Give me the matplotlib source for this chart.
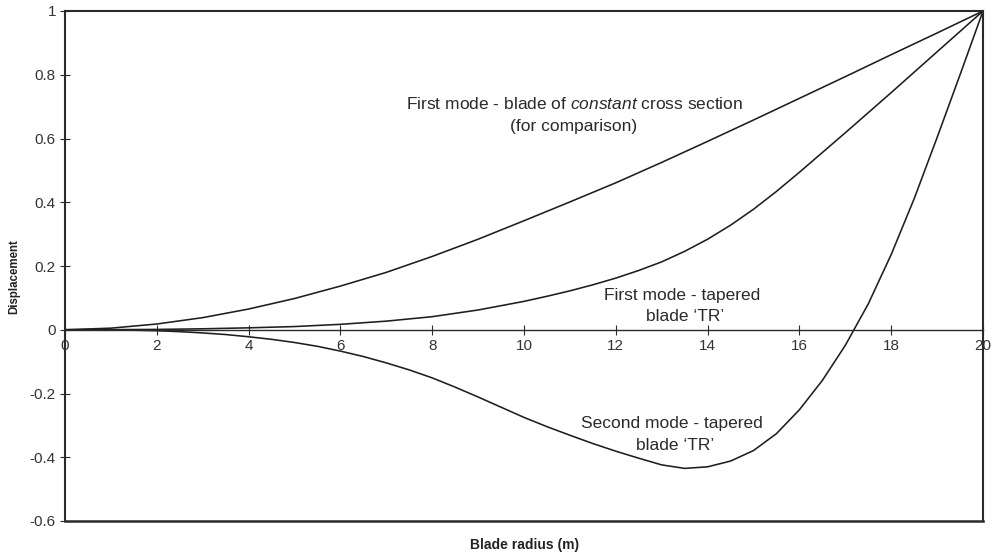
import matplotlib
matplotlib.use("Agg")
import matplotlib.pyplot as plt

# Blade radius (m)
radius = [0, 1, 2, 3, 4, 5, 6, 7, 8, 9, 10, 11, 12, 13, 14, 15, 16, 17, 18, 19, 20]
# First mode - blade of constant cross section
mode1_constant = [0, 0.005, 0.018, 0.038, 0.065, 0.098, 0.137, 0.180, 0.230, 0.284, 0.342,
                  0.401, 0.461, 0.525, 0.591, 0.658, 0.726, 0.794, 0.863, 0.931, 1.0]
# First mode - tapered blade 'TR'
radius_t1 = [0, 1, 2, 3, 4, 5, 6, 7, 8, 9, 10, 10.5, 11, 11.5, 12, 12.5, 13, 13.5, 14, 14.5,
             15, 15.5, 16, 16.5, 17, 17.5, 18, 18.5, 19, 19.5, 20]
mode1_tapered = [0, 0.0003, 0.001, 0.003, 0.006, 0.010, 0.017, 0.027, 0.041, 0.062, 0.089,
                 0.105, 0.122, 0.141, 0.162, 0.186, 0.213, 0.246, 0.284, 0.328, 0.378, 0.434,
                 0.494, 0.556, 0.618, 0.681, 0.744, 0.808, 0.872, 0.936, 1.0]
# Second mode - tapered blade 'TR'
radius_t2 = [0, 0.5, 1, 1.5, 2, 2.5, 3, 3.5, 4, 4.5, 5, 5.5, 6, 6.5, 7, 7.5, 8, 8.5, 9, 9.5,
             10, 10.5, 11, 11.5, 12, 12.5, 13, 13.5, 14, 14.5, 15, 15.5, 16, 16.5, 17, 17.5,
             18, 18.5, 19, 19.5, 20]
mode2_tapered = [0, 0, -0.0005, -0.0015, -0.003, -0.006, -0.010, -0.015, -0.022, -0.030,
                 -0.040, -0.052, -0.067, -0.084, -0.104, -0.126, -0.151, -0.180, -0.211,
                 -0.243, -0.275, -0.304, -0.331, -0.357, -0.381, -0.403, -0.424, -0.435,
                 -0.430, -0.412, -0.379, -0.326, -0.251, -0.159, -0.049, 0.081, 0.236,
                 0.411, 0.603, 0.800, 1.0]

xticks = [0, 2, 4, 6, 8, 10, 12, 14, 16, 18, 20]
yticks = [-0.6, -0.4, -0.2, 0, 0.2, 0.4, 0.6, 0.8, 1]
ytick_labels = ["-0.6", "-0.4", "-0.2", "0", "0.2", "0.4", "0.6", "0.8", "1"]

plt.rcParams['font.family'] = ['Liberation Sans', 'DejaVu Sans']
plt.rcParams['mathtext.fontset'] = 'custom'
plt.rcParams['mathtext.rm'] = 'Liberation Sans'
plt.rcParams['mathtext.it'] = 'Liberation Sans:italic'

fig = plt.figure(figsize=(9.98, 5.57), dpi=100)
ax = fig.add_axes([65 / 998, 36 / 557, 918 / 998, 510 / 557])

lc = '#1e1e1e'
ax.plot(radius, mode1_constant, color=lc, lw=1.15)
ax.plot(radius_t1, mode1_tapered, color=lc, lw=1.15)
ax.plot(radius_t2, mode2_tapered, color=lc, lw=1.15)

ax.set_xlim(0, 20)
ax.set_ylim(-0.6, 1)

frame_c = '#2a2a2a'
for s in ['left', 'right', 'top']:
    ax.spines[s].set_color(frame_c)
    ax.spines[s].set_linewidth(1.5)
ax.spines['bottom'].set_position(('data', 0))
ax.spines['bottom'].set_color(frame_c)
ax.spines['bottom'].set_linewidth(1.0)
ax.axhline(ax.get_ylim()[0], color=frame_c, lw=1.8, clip_on=False)

ax.set_xticks(xticks)
ax.set_xticklabels([str(t) for t in xticks])
ax.set_yticks(yticks)
ax.set_yticklabels(ytick_labels)
ax.tick_params(axis='x', direction='inout', length=7, width=0.8, color=frame_c,
               labelsize=11, labelcolor='#333333', pad=3)
ax.tick_params(axis='y', direction='inout', length=7, width=0.8, color=frame_c,
               labelsize=11, labelcolor='#333333', pad=3)

fig.text(525 / 998, 1 - 545 / 557, 'Blade radius (m)', ha='center', va='center',
         fontsize=10, fontweight='bold', color='#222222')
fig.text(14 / 998, 1 - 277 / 557, 'Displacement', ha='center', va='center', rotation=90,
         fontsize=8.3, fontweight='bold', color='#222222')

tc = '#2a2a2a'
fs = 12.5
ax.text(11.1, 0.708, 'First mode - blade of $\\it{constant}$ cross section', ha='center',
        va='center', fontsize=fs, color=tc)
ax.text(11.07, 0.639, '(for comparison)', ha='center', va='center', fontsize=fs, color=tc)
ax.text(13.44, 0.106, 'First mode - tapered', ha='center', va='center', fontsize=fs, color=tc)
ax.text(13.5, 0.043, 'blade \u2018TR\u2019', ha='center', va='center', fontsize=fs, color=tc)
ax.text(13.22, -0.294, 'Second mode - tapered', ha='center', va='center', fontsize=fs,
        color=tc)
ax.text(13.29, -0.362, 'blade \u2018TR\u2019', ha='center', va='center', fontsize=fs, color=tc)

fig.savefig('out.png', dpi=100)
